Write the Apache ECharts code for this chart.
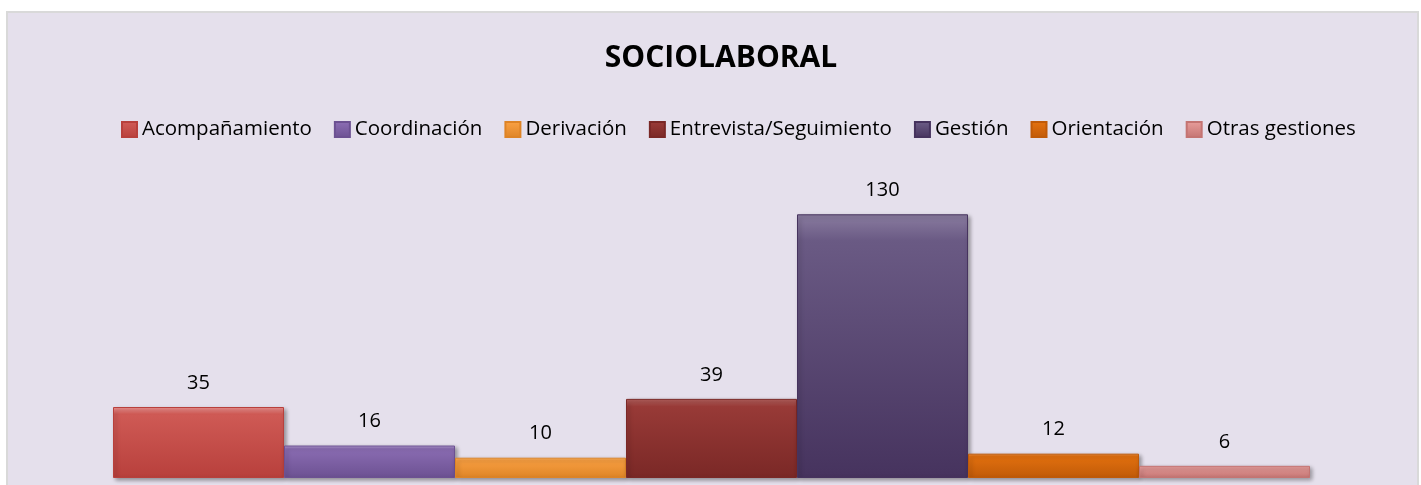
<!DOCTYPE html>
<html>
<head>
<meta charset="utf-8">
<script src="https://cdn.jsdelivr.net/npm/echarts@6/dist/echarts.min.js"></script>
<style>
    html, body { margin: 0; padding: 0; background: #fff; }
    #frame {
        position: absolute; left: 6px; top: 11px; width: 1409px; height: 480px;
        background: #e5e0ec; border: 2px solid #d9d9d9;
    }
    #chart { position: absolute; left: 0; top: 0; width: 1421px; height: 485px; }
</style>
</head>
<body>
<div id="frame"></div>
<div id="chart"></div>
<script>
// categorías (una serie por categoría)
const names = ['Acompañamiento', 'Coordinación', 'Derivación', 'Entrevista/Seguimiento', 'Gestión', 'Orientación', 'Otras gestiones'];
// valores
const values = [35, 16, 10, 39, 130, 12, 6];

// colores: [claro, principal, oscuro]
const palette = [
    ['#f29593', '#cf5a55', '#b8403c'],
    ['#b7a0d4', '#8a6cb2', '#6c5192'],
    ['#fcc788', '#f89f42', '#de8426'],
    ['#b5605d', '#983a37', '#7a2826'],
    ['#8a7ca0', '#6a5a84', '#46335e'],
    ['#f09a52', '#e2700f', '#c05a08'],
    ['#f7bcba', '#e59a98', '#c47472'],
];

function grad(c) {
    return new echarts.graphic.LinearGradient(0, 0, 0, 1, [
        { offset: 0, color: c[0] },
        { offset: 0.1, color: c[1] },
        { offset: 1, color: c[2] },
    ]);
}

const instance = echarts.init(document.querySelector('#chart'));
instance.setOption({
    title: {
        text: 'SOCIOLABORAL',
        left: 716,
        textAlign: 'center',
        top: 38,
        textStyle: {
            fontFamily: 'Open Sans',
            fontWeight: 'bold',
            fontSize: 30,
            color: '#000',
        },
    },
    legend: {
        data: names,
        left: 121,
        top: 119,
        padding: 0,
        itemWidth: 15,
        itemHeight: 15,
        itemGap: 22,
        icon: 'rect',
        textStyle: {
            fontFamily: 'Open Sans',
            fontSize: 20.5,
            color: '#000',
        },
    },
    grid: {
        left: 113,
        right: 111,
        top: 194,
        bottom: 7,
    },
    xAxis: {
        type: 'category',
        data: [''],
        axisLine: { show: false },
        axisTick: { show: false },
        axisLabel: { show: false },
    },
    yAxis: {
        type: 'value',
        min: 0,
        max: 140,
        show: false,
        splitLine: { show: false },
    },
    series: names.map((name, i) => ({
        name: name,
        type: 'bar',
        data: [values[i]],
        barGap: '0%',
        barCategoryGap: '0%',
        itemStyle: {
            color: grad(palette[i]),
            borderColor: palette[i][2],
            borderWidth: 1,
            shadowColor: 'rgba(0, 0, 0, 0.35)',
            shadowBlur: 4,
            shadowOffsetX: 2,
            shadowOffsetY: 2,
        },
        label: {
            show: true,
            position: 'top',
            distance: 14,
            fontFamily: 'Open Sans',
            fontSize: 20,
            color: '#000',
        },
    })),
});
</script>
</body>
</html>
